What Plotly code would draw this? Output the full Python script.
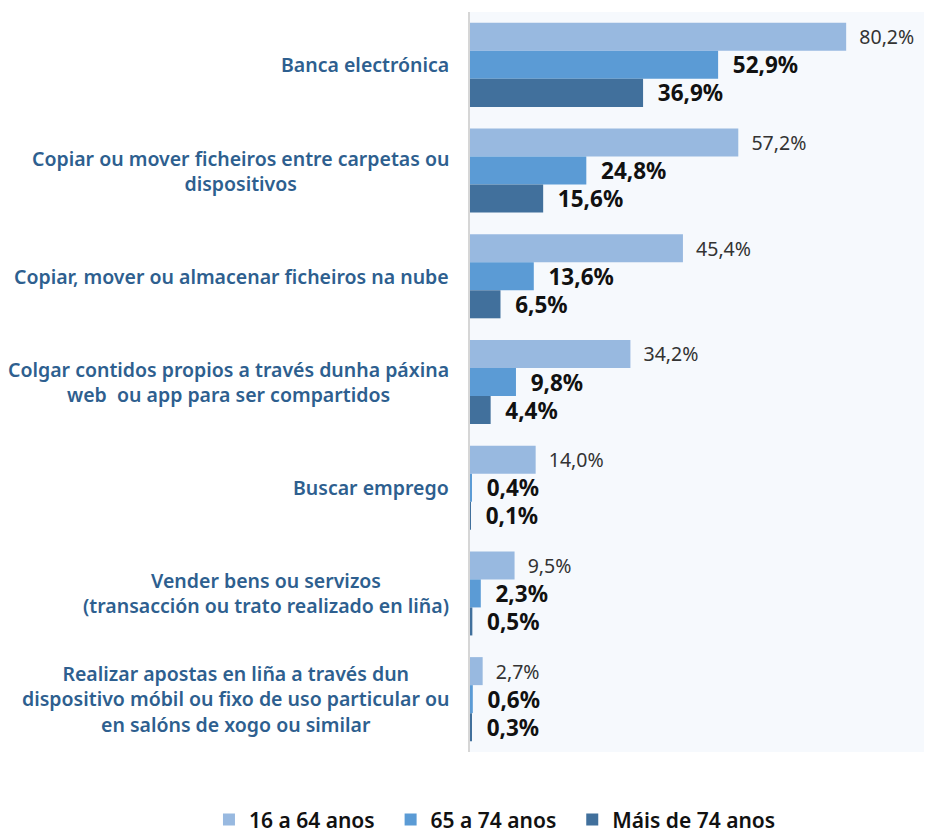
import plotly.graph_objects as go

categories = [
    "Banca electrónica",
    "Copiar ou mover ficheiros entre carpetas ou<br>dispositivos",
    "Copiar, mover ou almacenar ficheiros na nube",
    "Colgar contidos propios a través dunha páxina<br>web  ou app para ser compartidos",
    "Buscar emprego",
    "Vender bens ou servizos<br>(transacción ou trato realizado en liña)",
    "Realizar apostas en liña a través dun<br>dispositivo móbil ou fixo de uso particular ou<br>en salóns de xogo ou similar",
]
series_names = ["16 a 64 anos", "65 a 74 anos", "Máis de 74 anos"]
age_16_64 = [80.2, 57.2, 45.4, 34.2, 14.0, 9.5, 2.7]
age_65_74 = [52.9, 24.8, 13.6, 9.8, 0.4, 2.3, 0.6]
age_74_plus = [36.9, 15.6, 6.5, 4.4, 0.1, 0.5, 0.3]

colors = ["#98B9E0", "#5B9BD5", "#41709C"]
FONT = "Noto Sans"

fig = go.Figure()
series = [age_16_64, age_65_74, age_74_plus]
for i, (name, vals) in enumerate(zip(series_names, series)):
    if i == 0:
        tf = dict(family=FONT, size=19.5, color="#333333", weight=400)
    else:
        tf = dict(family=FONT, size=22.5, color="#111111", weight=700)
    pad = "\u00a0\u00a0" if i < len(series_names) - 1 else ""
    fig.add_trace(go.Bar(
        y=categories, x=vals, name=name + pad, orientation="h",
        marker=dict(color=colors[i], line=dict(width=0)),
        texttemplate="\u00a0\u00a0%{x:.1f}%", textposition="outside",
        textfont=tf, constraintext="none", cliponaxis=False,
        hoverinfo="skip",
    ))

for cat in categories:
    fig.add_annotation(
        x=0, xref="paper", y=cat, yref="y", text=cat, showarrow=False,
        xanchor="right", align="center", xshift=-19,
        font=dict(family=FONT, size=19.5, color="#2E5F8F", weight=600),
    )

# page body has an 8px margin; figure sized so the plot lands where the reference has it
fig.update_layout(
    width=924, height=830,
    margin=dict(l=462, r=0, t=4, b=86, autoexpand=False),
    barmode="group", bargap=0.205, bargroupgap=0,
    separators=",.",
    paper_bgcolor="white", plot_bgcolor="#F6F9FD",
    showlegend=True,
    legend=dict(
        orientation="h", xref="paper", yref="paper",
        x=-0.565, xanchor="left", y=-0.064, yanchor="top",
        font=dict(family=FONT, size=21, color="#111111", weight=600),
        itemwidth=30, traceorder="normal",
    ),
    xaxis=dict(range=[0, 98.5], visible=False, showgrid=False, zeroline=False),
    yaxis=dict(autorange="reversed", showticklabels=False, showgrid=False,
               showline=True, linecolor="#D6D6D6", linewidth=2, ticks=""),
)

fig.write_html("out.html")
